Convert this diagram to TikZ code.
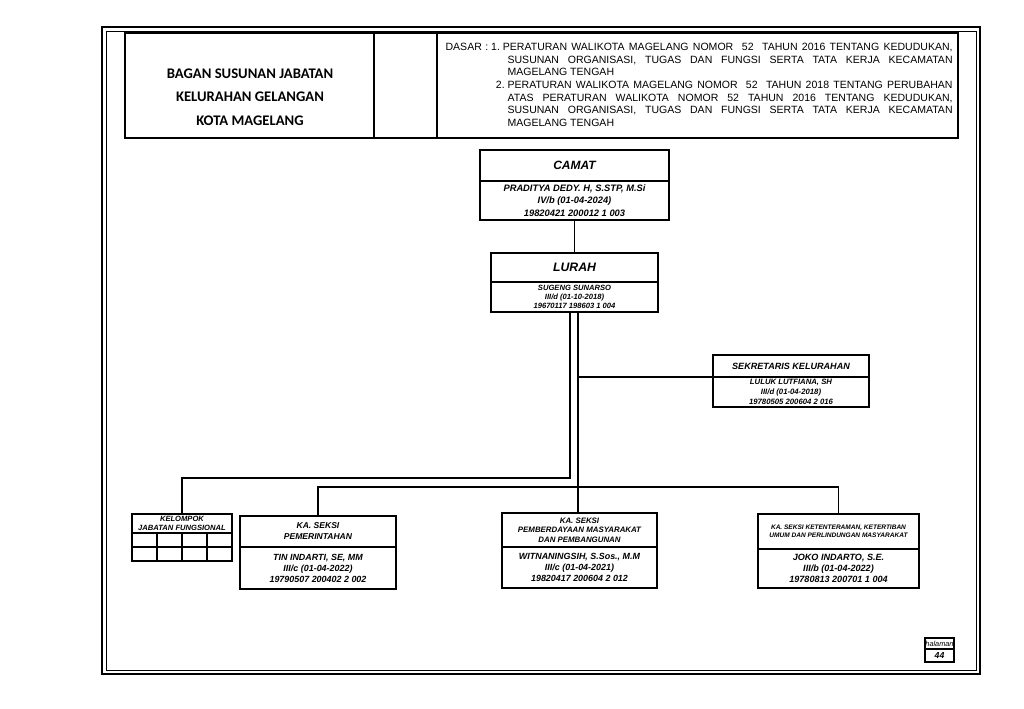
\documentclass[tikz,border=0pt]{standalone}
\usepackage{fontspec}
\setmainfont{Liberation Sans}
\newfontfamily\judulfont{Carlito}
\usetikzlibrary{positioning}

\begin{document}
\begin{tikzpicture}[x=0.75pt,y=-0.75pt,line width=0.9pt,
 uk/.style 2 args={minimum width=#1*0.75pt,minimum height=#2*0.75pt},
 huruf/.style 2 args={font=\fontsize{#1}{#2}\selectfont\bfseries\itshape},
 kotak/.style={draw,inner sep=0pt,outer sep=0pt,align=center},
 sel/.style={draw,inner sep=0pt,outer sep=0pt,minimum width=18.75pt,minimum height=10.5pt}]
\useasboundingbox (0,0) rectangle (1024,709);
% bingkai halaman
\draw[line width=1.3pt] (102,27) rectangle (980,674);
\draw[line width=0.7pt] (106,31) rectangle (976,670);
% kepala
\node[kotak,uk={249}{105}] (judul) at (249.5,85.5) {};
\node[align=center,font=\judulfont\bfseries\fontsize{11}{17.6}\selectfont] (judulteks) at (250,97) {BAGAN SUSUNAN JABATAN\\KELURAHAN GELANGAN\\KOTA MAGELANG};
\node[kotak,uk={63}{105}] (kosong) at (405.5,85.5) {};
\node[kotak,uk={521}{105}] (dasar) at (697.5,85.5) {};
\node[anchor=north west,inner sep=0pt,text width=380.25pt,align=justify,font=\fontsize{7.9}{9.5}\selectfont] (dasarteks) at (445,42.5) {%
\noindent\hangindent=46.5pt\hangafter=1
\makebox[43pt][l]{DASAR\hfill:\ 1.\ }PERATURAN WALIKOTA MAGELANG NOMOR\ \ 52\ \ TAHUN 2016 TENTANG KEDUDUKAN,\linebreak
SUSUNAN ORGANISASI, TUGAS DAN FUNGSI SERTA TATA KERJA KECAMATAN\linebreak
MAGELANG TENGAH\par
\noindent\hangindent=46.5pt\hangafter=0
\llap{2.\ }PERATURAN WALIKOTA MAGELANG NOMOR\ \ 52\ \ TAHUN 2018 TENTANG PERUBAHAN\linebreak
ATAS PERATURAN WALIKOTA NOMOR 52 TAHUN 2016 TENTANG KEDUDUKAN,\linebreak
SUSUNAN ORGANISASI, TUGAS DAN FUNGSI SERTA TATA KERJA KECAMATAN\linebreak
MAGELANG TENGAH\par};
% jabatan
\node[kotak,uk={189}{31},huruf={9}{11}] (camat) at (574.5,165.5) {CAMAT};
\node[kotak,uk={189}{39},huruf={7}{9.4},below=0pt of camat] (camatisi) {PRADITYA DEDY. H, S.STP, M.Si\\IV/b (01-04-2024)\\19820421 200012 1 003};
\node[kotak,uk={167}{29},huruf={9.2}{11}] (lurah) at (574.5,267.5) {LURAH};
\node[kotak,uk={167}{30},huruf={5.7}{6.75},below=0pt of lurah] (lurahisi) {SUGENG SUNARSO\\III/d (01-10-2018)\\19670117 198603 1 004};
\node[kotak,uk={156}{22},huruf={6.8}{8}] (sekretaris) at (791,366) {SEKRETARIS KELURAHAN};
\node[kotak,uk={156}{30},huruf={5.8}{7.5},below=0pt of sekretaris] (sekretarisisi) {LULUK LUTFIANA, SH\\III/d (01-04-2018)\\19780505 200604 2 016};
\node[kotak,uk={100}{19},huruf={5.7}{6.75}] (fungsional) at (182,523.5) {KELOMPOK\\JABATAN FUNGSIONAL};
\foreach \i in {0,...,3}
 \foreach \j in {0,1}
  \node[sel] (fungsional\i\j) at (144.5+25*\i,540+14*\j) {};
\node[kotak,uk={156}{31},huruf={6.4}{8.25}] (pemerintahan) at (318,531.5) {KA. SEKSI\\PEMERINTAHAN};
\node[kotak,uk={156}{42},huruf={6.7}{8.25},below=0pt of pemerintahan] (pemerintahanisi) {TIN INDARTI, SE, MM\\III/c (01-04-2022)\\19790507 200402 2 002};
\node[kotak,uk={155}{34},huruf={5.9}{7.1}] (pemberdayaan) at (579.5,530) {KA. SEKSI\\PEMBERDAYAAN MASYARAKAT\\DAN PEMBANGUNAN};
\node[kotak,uk={155}{41},huruf={6.7}{8.25},below=0pt of pemberdayaan] (pemberdayaanisi) {WITNANINGSIH, S.Sos., M.M\\III/c (01-04-2021)\\19820417 200604 2 012};
\node[kotak,uk={161}{35},huruf={4.9}{6}] (ketenteraman) at (838.5,531.5) {KA. SEKSI KETENTERAMAN, KETERTIBAN\\UMUM DAN PERLINDUNGAN MASYARAKAT};
\node[kotak,uk={161}{39},huruf={6.8}{8.25},below=0pt of ketenteraman] (ketenteramanisi) {JOKO INDARTO, S.E.\\III/b (01-04-2022)\\19780813 200701 1 004};
\node[kotak,uk={29}{11},font=\fontsize{5.5}{6}\selectfont\itshape] (halaman) at (939.5,643.5) {halaman};
\node[kotak,uk={29}{13},huruf={6.5}{7},below=0pt of halaman] (halamanisi) {44};
% garis
\coordinate (cabangA) at (570,478);
\coordinate (cabangB) at (578,487);
\draw (camatisi) -- (lurah);
\draw (cabangA |- lurahisi.south) -- (cabangA) -| (fungsional.north);
\draw (cabangB |- lurahisi.south) -- (cabangB) -| (pemerintahan.north);
\draw (cabangB) -| (ketenteraman.north);
\draw (cabangB) -- (cabangB |- pemberdayaan.north);
\draw (cabangB |- sekretarisisi.north west) -- (sekretarisisi.north west);
\end{tikzpicture}
\end{document}
